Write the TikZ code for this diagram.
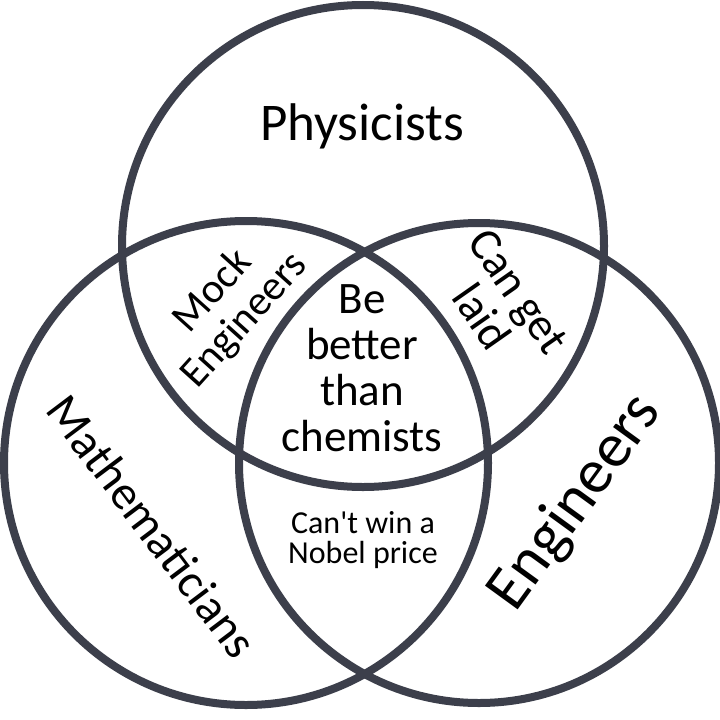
\documentclass[tikz,border=0pt]{standalone}
\usepackage{fontspec}
\setmainfont{Carlito}
\newfontfamily\rawfont{Carlito}[Ligatures=TeXOff]
\usepackage{tikz}
\definecolor{ringcol}{RGB}{60,63,75}

\newcommand{\fsz}[2]{\fontsize{#1}{#2}\selectfont}

\begin{document}
\begin{tikzpicture}[x=1pt, y=-1pt,
        ring/.style={draw=ringcol, line width=8pt},
        lbl/.style={align=center, inner sep=0pt, text=black}
    ]
        \fill[white] (0,0) rectangle (720,720);
        \useasboundingbox (0,0) rectangle (720,720);

        % the three sets
        \draw[ring] (363,246) circle[radius=241];
        \draw[ring] (246,463) circle[radius=242];
        \draw[ring] (479,463) circle[radius=240];

        % labels
        \node[lbl, font=\fsz{53}{60}, anchor=base] (phys) at (362,140) {Physicists};
        \node[lbl, font=\fsz{48}{52}, rotate=-53] (math) at (152,526) {Mathematicians};
        \node[lbl, font=\fsz{63}{70}, rotate=54] (eng) at (576,503) {Engineers};
        \node[lbl, font=\fsz{42}{43}, rotate=48] (mock) at (229,306) {Mock\\Engineers};
        \node[lbl, font=\fsz{46}{45}, rotate=-55] (laid) at (500,304) {Can get\\laid};
        \node[lbl, font=\fsz{45}{46}] (chem) at (362,368) {Be\\better\\than\\chemists};
        \node[lbl, font=\rawfont\fsz{32}{30}] (nobel) at (363,540) {Can't win a\\Nobel price};
    \end{tikzpicture}
\end{document}
